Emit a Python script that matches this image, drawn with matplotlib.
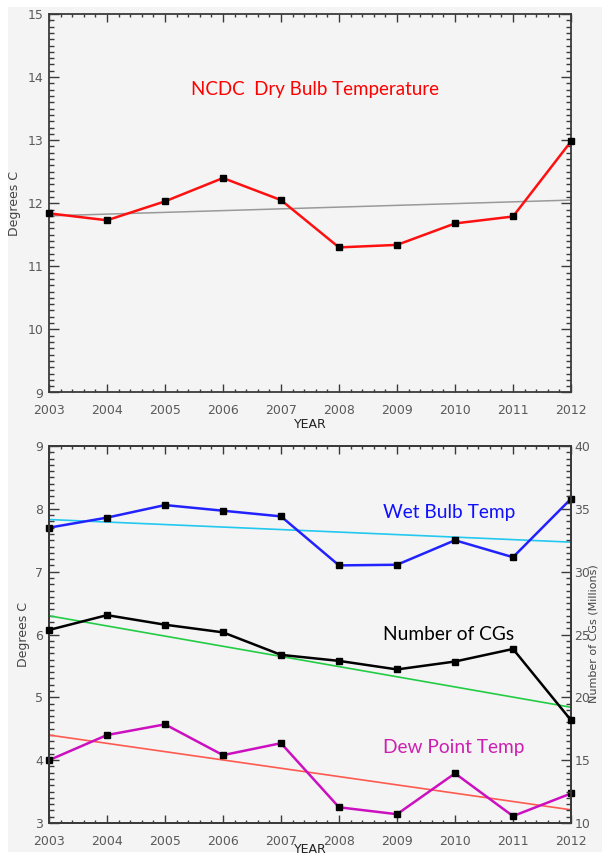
import matplotlib
matplotlib.use("Agg")
import matplotlib.pyplot as plt
from matplotlib.patches import Rectangle
from matplotlib.ticker import MultipleLocator

years = [2003, 2004, 2005, 2006, 2007, 2008, 2009, 2010, 2011, 2012]
dry_bulb = [11.84, 11.73, 12.03, 12.40, 12.05, 11.30, 11.34, 11.68, 11.79, 12.98]
dry_trend = [11.80, 12.05]
wet_bulb = [7.70, 7.86, 8.06, 7.97, 7.88, 7.10, 7.11, 7.50, 7.23, 8.16]
wet_trend = [7.83, 7.47]
dew_point = [4.00, 4.40, 4.57, 4.08, 4.27, 3.25, 3.14, 3.79, 3.11, 3.47]
dew_trend = [4.40, 3.21]
num_cgs = [25.36, 26.54, 25.78, 25.17, 23.38, 22.90, 22.22, 22.85, 23.85, 18.18]
cg_trend = [26.49, 19.21]
trend_years = [2003, 2012]

W, H = 602, 855
fig = plt.figure(figsize=(W / 100, H / 100), dpi=100)
fig.patch.set_facecolor("white")
bg = "#f4f4f4"
fig.patches.append(Rectangle((8 / W, 1 - 852 / H), 594 / W, 845 / H,
                             transform=fig.transFigure, facecolor=bg,
                             edgecolor="none", zorder=-10))

frame_col = "#3a3a3a"
lab_col = "#5a5a5a"


def style_axes(ax, xpad):
    ax.set_facecolor(bg)
    for s in ax.spines.values():
        s.set_color(frame_col)
        s.set_linewidth(1.3)
    ax.set_xlim(2003, 2012)
    ax.xaxis.set_major_locator(MultipleLocator(1))
    ax.xaxis.set_minor_locator(MultipleLocator(0.2))
    ax.yaxis.set_major_locator(MultipleLocator(1))
    ax.yaxis.set_minor_locator(MultipleLocator(0.1))
    ax.tick_params(axis="x", which="major", direction="in", length=5.5,
                   width=1.0, color=frame_col, top=True, pad=xpad,
                   labelsize=9, labelcolor=lab_col)
    ax.tick_params(axis="x", which="minor", direction="in", length=2.5,
                   width=1.0, color=frame_col, top=True)
    ax.tick_params(axis="y", which="major", direction="in", length=7.5,
                   width=1.0, color=frame_col, pad=4,
                   labelsize=9, labelcolor=lab_col)
    ax.tick_params(axis="y", which="minor", direction="in", length=3.8,
                   width=1.0, color=frame_col)
    ax.set_xticks(years)
    ax.set_xticklabels([str(y) for y in years])


# ---------------- Top panel ----------------
ax1 = fig.add_axes([49 / W, 1 - 392.5 / H, 522 / W, 378.5 / H])
style_axes(ax1, 8)
ax1.tick_params(axis="y", which="both", right=True)
ax1.set_ylim(9, 15)
ax1.plot(trend_years, dry_trend, color="#999999", lw=1.1, zorder=2)
ax1.plot(years, dry_bulb, color="#ff1010", lw=1.8, zorder=3,
         marker="s", markersize=4.6, markerfacecolor="black",
         markeredgecolor="black", clip_on=False)
ax1.text(0.272, 0.8, "NCDC  Dry Bulb Temperature", transform=ax1.transAxes,
         color="#ff0000", fontsize=13.5, family="Lato", va="center", ha="left")
ax1.set_xlabel("YEAR", fontsize=9, color="#222222", labelpad=1)
ax1.set_ylabel("Degrees C", fontsize=9, color="#444444", labelpad=5)

# ---------------- Bottom panel ----------------
ax2 = fig.add_axes([49 / W, 1 - 823 / H, 522 / W, 377 / H])
style_axes(ax2, 8.5)
ax2.tick_params(axis="y", which="both", right=False)
ax2.set_ylim(3, 9)
ax3 = ax2.twinx()
ax3.set_ylim(10, 40)
ax3.yaxis.set_major_locator(MultipleLocator(5))
ax3.yaxis.set_minor_locator(MultipleLocator(0.5))
ax3.tick_params(axis="y", which="major", direction="in", length=7.5,
                width=1.0, color=frame_col, pad=2.5, labelsize=9,
                labelcolor=lab_col)
ax3.tick_params(axis="y", which="minor", direction="in", length=3.8,
                width=1.0, color=frame_col)
for s in ax3.spines.values():
    s.set_color(frame_col)
    s.set_linewidth(1.3)

mk = dict(marker="s", markersize=4.6, markerfacecolor="black",
          markeredgecolor="black", clip_on=False)
ax2.plot(trend_years, wet_trend, color="#22c8ee", lw=1.2, zorder=2)
ax2.plot(trend_years, dew_trend, color="#ff5a50", lw=1.2, zorder=2)
ax3.plot(trend_years, cg_trend, color="#22cc44", lw=1.2, zorder=2)
ax2.plot(years, wet_bulb, color="#2222ff", lw=1.8, zorder=3, **mk)
ax2.plot(years, dew_point, color="#cc10c0", lw=1.8, zorder=3, **mk)
ax3.plot(years, num_cgs, color="black", lw=1.8, zorder=3, **mk)

ax2.text(0.64, 0.823, "Wet Bulb Temp", transform=ax2.transAxes,
         color="#1010ff", fontsize=13.8, family="Lato", va="center")
ax2.text(0.64, 0.5, "Number of CGs", transform=ax2.transAxes,
         color="black", fontsize=13.8, family="Lato", va="center")
ax2.text(0.64, 0.2, "Dew Point Temp", transform=ax2.transAxes,
         color="#cc20b0", fontsize=13.8, family="Lato", va="center")
ax2.set_xlabel("YEAR", fontsize=9, color="#222222", labelpad=-3.5)
ax2.set_ylabel("Degrees C", fontsize=9, color="#444444", labelpad=4)
fig.text(589 / W, 1 - 634 / H, "Number of CGs (Millions)", rotation=90,
         fontsize=8, color="#444444", va="center", ha="left")

fig.savefig("out.png", dpi=100)
